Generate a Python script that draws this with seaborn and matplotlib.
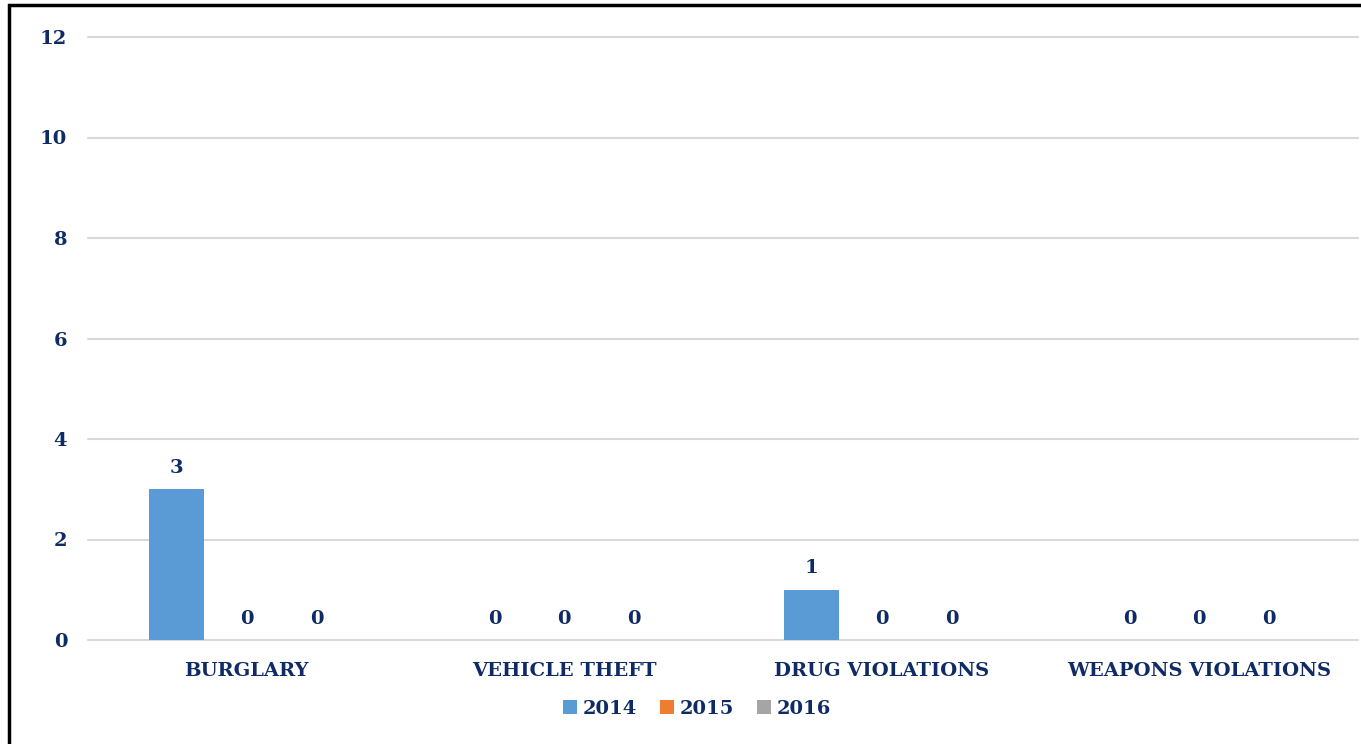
import pandas as pd
import numpy as np
import seaborn as sns
import matplotlib.pyplot as plt
from matplotlib.patches import Rectangle

# Values
categories = ['BURGLARY', 'VEHICLE THEFT', 'DRUG VIOLATIONS', 'WEAPONS VIOLATIONS']
years = ['2014', '2015', '2016']
counts_2014 = [3, 0, 1, 0]
counts_2015 = [0, 0, 0, 0]
counts_2016 = [0, 0, 0, 0]
y_ticks = [0, 2, 4, 6, 8, 10, 12]

df = pd.DataFrame({
    'category': categories * 3,
    'year': [years[0]] * 4 + [years[1]] * 4 + [years[2]] * 4,
    'count': counts_2014 + counts_2015 + counts_2016,
})

navy = '#0F2B66'
palette = {'2014': '#5B9BD5', '2015': '#ED7D31', '2016': '#A5A5A5'}

sns.set_theme(style='white')
plt.rcParams['font.family'] = ['DejaVu Serif']
plt.rcParams['font.weight'] = 'bold'

fig = plt.figure(figsize=(13.61, 7.44), dpi=100)
ax = fig.add_axes([88 / 1361, 104 / 744, 1270 / 1361, 603 / 744])

sns.barplot(data=df, x='category', y='count', hue='year', palette=palette,
            width=0.66, gap=0.21, ax=ax, saturation=1, legend=True, linewidth=0)

for c in ax.containers:
    ax.bar_label(c, fmt='%d', padding=9, color=navy, fontsize=14, fontweight='bold')

ax.set_ylim(0, 12)
ax.set_xlim(-0.5, 3.5)
ax.set_yticks(y_ticks)
ax.yaxis.grid(True, color='#D9D9D9', linewidth=1.5)
for gl in ax.get_ygridlines():
    gl.set_clip_on(False)
ax.set_axisbelow(True)
for s in ax.spines.values():
    s.set_visible(False)
ax.set_xlabel('')
ax.set_ylabel('')
ax.tick_params(axis='y', length=0, pad=15, labelsize=14, labelcolor=navy)
ax.tick_params(axis='x', length=0, pad=16, labelsize=14, labelcolor=navy)
for lbl in ax.get_xticklabels() + ax.get_yticklabels():
    lbl.set_fontweight('bold')

handles, labels = ax.get_legend_handles_labels()
ax.legend(handles, labels, loc='center', bbox_to_anchor=(697 / 1361, 35 / 744),
          bbox_transform=fig.transFigure, ncol=3, frameon=False,
          handlelength=0.7, handleheight=0.7, handletextpad=0.3, columnspacing=1.2,
          prop={'size': 14, 'weight': 'bold'}, labelcolor=navy)

# black frame around the chart (right/bottom edges fall off the image)
fig.patches.append(Rectangle((9 / 1361, -0.05), 1.1, (744 - 5) / 744 + 0.05,
                             transform=fig.transFigure, fill=False,
                             edgecolor='black', linewidth=2.5, clip_on=False))

fig.savefig('out.png', dpi=100)
